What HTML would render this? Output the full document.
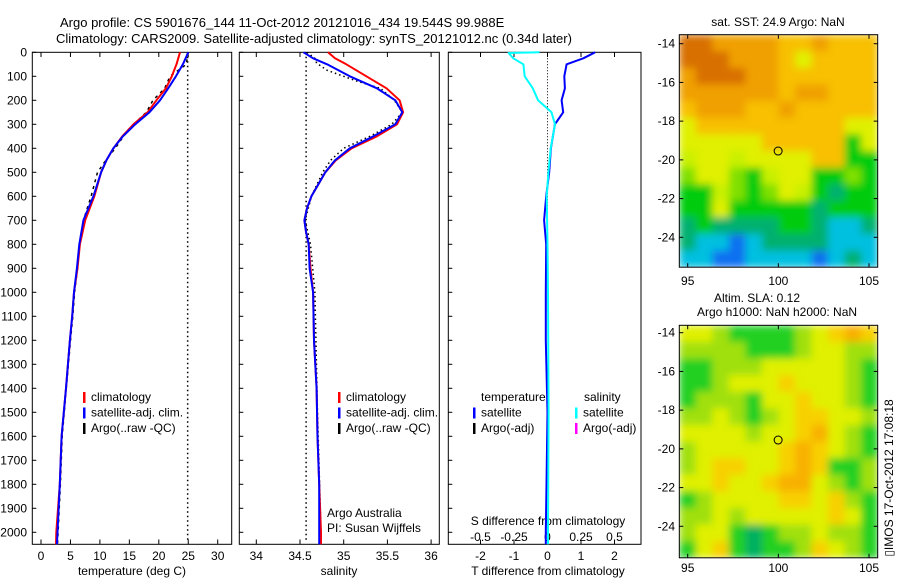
<!DOCTYPE html>
<html><head><meta charset="utf-8"><style>
body{margin:0;background:#fff;}
svg{display:block;font-family:"Liberation Sans",sans-serif;}
</style></head><body>
<svg id="fig" width="900" height="580" viewBox="0 0 900 580">
<defs>
<filter id="blur" x="0" y="0" width="1" height="1"><feGaussianBlur stdDeviation="4" edgeMode="duplicate"/></filter>
<clipPath id="clip1"><rect x="679.3" y="34.7" width="198.4" height="232.5"/></clipPath>
<clipPath id="clip2"><rect x="679.3" y="325.3" width="198.4" height="232.5"/></clipPath>
</defs>
<text x="60" y="27" font-size="13">Argo profile: CS 5901676_144 11-Oct-2012 20121016_434 19.544S 99.988E</text>
<text x="56" y="43" font-size="13">Climatology: CARS2009. Satellite-adjusted climatology: synTS_20121012.nc (0.34d later)</text>
<g id="p1"></g>
<g id="p2"></g>
<g id="p3"></g>
<g id="m1"></g>
<g id="m2"></g>
<text x="778" y="26" font-size="12" text-anchor="middle">sat. SST: 24.9 Argo: NaN</text>
<text x="757" y="302" font-size="12" text-anchor="middle">Altim. SLA: 0.12</text>
<text x="777" y="316" font-size="12" text-anchor="middle">Argo h1000: NaN h2000: NaN</text>
<text transform="translate(893,478) rotate(-90)" font-size="12" text-anchor="middle">▯IMOS 17-Oct-2012 17:08:18</text>
</svg>
<script>
// ---- profile data ----
const tDepth=[0,50,100,150,200,250,300,350,400,450,500,600,700,800,900,1000,1100,1200,1400,1600,1800,2000,2050];
const tSat=[25.0,24.1,22.9,21.6,20.2,18.4,16.0,13.9,12.3,11.1,10.2,8.9,7.2,6.5,6.1,5.6,5.3,4.9,4.25,3.5,3.2,2.8,2.7];
const tClim=[23.6,23.0,22.2,21.2,19.6,18.1,15.7,13.8,12.3,11.1,10.2,9.05,7.5,6.6,6.2,5.6,5.3,4.9,4.25,3.5,3.2,2.6,2.55];
const tArgo=[24.9,24.7,21.9,21.0,19.0,17.9,15.7,14.0,12.6,11.0,9.6,8.5,7.2,6.6,6.2,5.7,5.4,5.0,4.3,3.6,3.3,2.9,2.8];
const sDepth=[0,25,50,100,150,200,250,300,350,400,450,500,550,600,650,700,750,800,900,1000,1200,1400,1600,1800,2000,2050];
const sSat=[34.54,34.65,34.81,35.07,35.38,35.59,35.67,35.59,35.34,35.07,34.9,34.79,34.71,34.63,34.58,34.55,34.57,34.6,34.61,34.65,34.66,34.69,34.7,34.72,34.72,34.72];
const sClim=[34.82,34.9,35.03,35.26,35.49,35.64,35.68,35.61,35.38,35.09,34.91,34.79,34.71,34.63,34.58,34.55,34.57,34.6,34.62,34.65,34.66,34.69,34.7,34.72,34.74,34.74];
const aDepth=[0,25,45,75,120,150,200,250,300,350,400,450,500,600,700,800,1000,1500,2000];
const sArgo=[34.58,34.67,34.69,34.81,35.15,35.42,35.58,35.67,35.55,35.3,35.0,34.85,34.76,34.63,34.56,34.62,34.67,34.7,34.74];
const dDepth=[0,25,50,100,150,200,250,280,300,400,500,600,700,800,1000,1200,1500,1800,2000,2050];
const dT=[1.42,1.07,0.57,0.5,0.52,0.42,0.47,0.32,0.22,0.1,0.05,-0.04,-0.1,-0.04,-0.05,-0.05,0,-0.03,-0.05,-0.05];
const cDepth=[0,3,25,50,100,150,200,250,300,400,500,600,800,1000,1500,2000,2050];
const dS=[-0.06,-0.29,-0.255,-0.18,-0.17,-0.11,-0.07,0.03,0.056,0.024,0.007,-0.006,0,0.004,0.008,0.004,0.004];
const depthTicks=[0,100,200,300,400,500,600,700,800,900,1000,1100,1200,1300,1400,1500,1600,1700,1800,1900,2000];
const tTicks=[0,5,10,15,20,25,30];
const sTicks=[34,34.5,35,35.5,36];
const dTicks=[-2,-1,0,1,2];
const dsTicks=[-0.5,-0.25,0,0.25,0.5];
// ---- map data (levels) ----
const sstGrid=[
[9,9,8,8,8,8,7,7,8,7,7,7],[9,9,9,8,8,8,7,6,7,7,7,7],[8,9,9,9,8,8,7,7,7,7,7,7],
[8,8,8,8,8,8,7,8,8,7,7,7],[7,8,8,8,7,7,8,7,7,7,7,7],[6,7,7,7,7,7,7,7,7,7,6,6],
[6,6,6,6,6,7,7,7,7,7,3,6],[5,6,6,5,6,6,6,6,7,7,3,3],[4,6,6,4,3,5,6,6,3,3,4,3],
[3,3,5,4,3,4,6,5,3,2,3,3],[3,3,6,3,3,3,3,3,2,3,3,3],[2,3,2,2,2,2,3,3,2,1,1,2],
[2,1,1,0,1,2,2,2,2,1,1,1],[1,1,0,0,1,1,1,1,0,1,2,1]];
const slaGrid=[
[3,3,2,1,1,1,1,2,3,4,5,4],[2,2,2,2,1,1,1,2,3,3,2,2],[1,1,2,2,2,3,3,3,3,3,2,1],
[1,1,2,3,3,3,4,3,3,3,2,1],[1,2,2,2,1,3,3,4,3,3,2,1],[2,2,3,2,1,2,3,4,4,3,3,2],
[3,3,3,3,2,3,3,4,5,3,2,1],[2,3,3,3,3,3,4,5,4,3,2,1],[2,3,4,4,3,3,4,5,4,1,1,2],
[3,3,4,3,3,4,5,5,3,2,1,2],[1,2,3,3,3,3,4,4,3,4,2,1],[2,2,3,2,3,3,3,3,3,4,3,1],
[2,3,3,1,0,1,2,2,3,2,2,1],[1,3,4,1,0,1,1,2,4,3,2,1]];
const lonTicks=[95,100,105];
const latTicks=[-14,-16,-18,-20,-22,-24];

const NS='http://www.w3.org/2000/svg';
function mk(parent,tag,attrs,txt){const e=document.createElementNS(NS,tag);for(const k in attrs)e.setAttribute(k,attrs[k]);if(txt!==undefined)e.textContent=txt;parent.appendChild(e);return e;}
const Y=d=>52.3+d*0.24;
const xT=t=>41+5.89*t;
const xS=s=>256.3+87.4*(s-34);
const xD=v=>547.5+33.5*v;
const xDS=v=>547.5+134*v;

function frame(g,x0,x1,name){
  const r=mk(g,'rect',{x:x0,y:52.3,width:x1-x0,height:492,fill:'none',stroke:'#000','stroke-width':1});
  
  
  depthTicks.forEach(d=>{
    const t=mk(g,'line',{x1:x0,x2:x0+4,y1:Y(d),y2:Y(d),stroke:'#000'});
    
    
  });
}
function xaxis(g,ticks,fx,ly,name,top){
  ticks.forEach(v=>{
    const x=fx(v);
    if(top){const a=mk(g,'line',{x1:x,x2:x,y1:52.3,y2:57,stroke:'#000'});
    
    }
    const b=mk(g,'line',{x1:x,x2:x,y1:544.3,y2:539.5,stroke:'#000'});
    
    
    const l=mk(g,'text',{x:x,y:ly,'font-size':12,'text-anchor':'middle'},String(v));
    
    
  });
}
function line(g,ds,vs,fx,col,w,dash,name){
  const pts=ds.map((d,i)=>fx(vs[i]).toFixed(1)+','+Y(d).toFixed(1)).join(' ');
  const a={points:pts,fill:'none',stroke:col,'stroke-width':w,'stroke-linejoin':'round'};
  if(dash)a['stroke-dasharray']=dash;
  const p=mk(g,'polyline',a);
  
  
}
function legend(g,x,y,items){
  items.forEach((it,i)=>{
    const b=mk(g,'rect',{x:x,y:y+i*15.5-9,width:2.5,height:11,fill:it[0]});
    
    
    const t=mk(g,'text',{x:x+8,y:y+i*15.5,'font-size':12},it[1]);
    
    
  });
}
function lbl(g,x,y,s,name,anchor){
  const t=mk(g,'text',{x:x,y:y,'font-size':12,'text-anchor':anchor||'start'},s);
  
  
}
// panel 1
const p1=document.getElementById('p1');
frame(p1,32.3,231.7,'temperature');
depthTicks.forEach(d=>lbl(p1,27,Y(d)+4,String(d),'depth-tick-label','end'));
xaxis(p1,tTicks,xT,560,'temperature',true);
lbl(p1,132,575,'temperature (deg C)','temperature-axis-title','middle');
const v1=mk(p1,'line',{x1:xT(24.9),x2:xT(24.9),y1:52.3,y2:542,stroke:'#000','stroke-width':1.5,'stroke-dasharray':'1.5 3'});


line(p1,tDepth,tArgo,xT,'#000',1.5,'3 4','argo-temperature');
line(p1,tDepth,tClim,xT,'#f00',2,null,'climatology-temperature');
line(p1,tDepth,tSat,xT,'#00f',2,null,'satellite-temperature');
legend(p1,83,401,[['#f00','climatology'],['#00f','satellite-adj. clim.'],['#000','Argo(..raw -QC)']]);
// panel 2
const p2=document.getElementById('p2');
frame(p2,239.3,439.3,'salinity');
xaxis(p2,sTicks,xS,560,'salinity',true);
lbl(p2,339,575,'salinity','salinity-axis-title','middle');
const v2=mk(p2,'line',{x1:xS(34.57),x2:xS(34.57),y1:52.3,y2:542,stroke:'#000','stroke-width':1.5,'stroke-dasharray':'1.5 3'});


line(p2,aDepth,sArgo,xS,'#000',1.5,'1.5 3','argo-salinity');
line(p2,sDepth,sClim,xS,'#f00',2,null,'climatology-salinity');
line(p2,sDepth,sSat,xS,'#00f',2,null,'satellite-salinity');
legend(p2,338,401,[['#f00','climatology'],['#00f','satellite-adj. clim.'],['#000','Argo(..raw -QC)']]);
lbl(p2,327,517,'Argo Australia','credit-line-1');
lbl(p2,327,532,'PI: Susan Wijffels','credit-line-2');
// panel 3
const p3=document.getElementById('p3');
frame(p3,448.3,641,'difference');
xaxis(p3,dTicks,xD,560,'t-diff',true);
dsTicks.forEach(v=>lbl(p3,xDS(v),541,String(v),'s-diff-tick-label','middle'));
lbl(p3,548,525,'S difference from climatology','s-diff-axis-title','middle');
lbl(p3,548,575,'T difference from climatology','t-diff-axis-title','middle');
const v3=mk(p3,'line',{x1:xD(0),x2:xD(0),y1:52.3,y2:300,stroke:'#000','stroke-width':1,'stroke-dasharray':'1 2'});


line(p3,dDepth,dT,xD,'#00f',2,null,'temperature-difference');
line(p3,cDepth,dS,xDS,'#0ff',2,null,'salinity-difference');
lbl(p3,481,401,'temperature','legend-temperature-header');
lbl(p3,584,401,'salinity','legend-salinity-header');
legend(p3,473,416.5,[['#00f','satellite'],['#000','Argo(-adj)']]);
legend(p3,575,416.5,[['#0ff','satellite'],['#f0f','Argo(-adj)']]);
// maps
const sstCol=['#1070f0','#00c0e0','#00b070','#00cc10','#80e000','#c8f000','#e0f000','#f8c000','#f0a000','#d87000'];
const slaCol=['#00b060','#20d020','#a0e010','#e0f000','#f8d000','#f8b000','#f09000'];
function map(id,top,grid,cols,tickLatY0,labY,clip){
  const g=document.getElementById(id);
  const L=679.3,R=877.7,H=232.5,W=R-L;
  const cw=W/grid[0].length,ch=H/grid.length;
  const cg=mk(g,'g',{'clip-path':'url(#'+clip+')'});
  
  
  const bg=mk(cg,'g',{filter:'url(#blur)'});
  
  
  grid.forEach((row,r)=>row.forEach((v,c)=>{
    const cell=mk(bg,'rect',{x:L+c*cw,y:top+r*ch,width:cw+0.5,height:ch+0.5,fill:cols[v]});
    
    
  }));
  const fr=mk(g,'rect',{x:L,y:top,width:W,height:H,fill:'none',stroke:'#000'});
  
  
  const fx=lon=>687.7+18.13*(lon-95);
  const fy=lat=>tickLatY0+19.36*(-14-lat);
  lonTicks.forEach(v=>{
    const t=mk(g,'line',{x1:fx(v),x2:fx(v),y1:top+H,y2:top+H-4,stroke:'#000'});
    
    
    const t2=mk(g,'line',{x1:fx(v),x2:fx(v),y1:top,y2:top+4,stroke:'#000'});
    
    
    lbl(g,fx(v),labY,String(v),'lon-tick-label','middle');
  });
  latTicks.forEach(v=>{
    const t=mk(g,'line',{x1:L,x2:L+4,y1:fy(v),y2:fy(v),stroke:'#000'});
    
    
    const t2=mk(g,'line',{x1:R,x2:R-4,y1:fy(v),y2:fy(v),stroke:'#000'});
    
    
    lbl(g,675,fy(v)+4,String(v),'lat-tick-label','end');
  });
  const c=mk(g,'circle',{cx:fx(99.988),cy:fy(-19.544),r:4,fill:'none',stroke:'#000','stroke-width':1});
  
  
}
map('m1',34.7,sstGrid,sstCol,43.7,285,'clip1');
map('m2',325.3,slaGrid,slaCol,332.7,572,'clip2');
</script>
</body></html>
